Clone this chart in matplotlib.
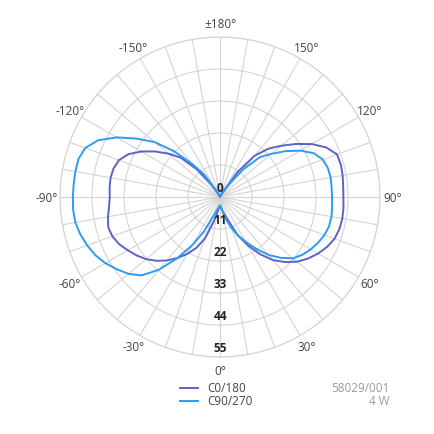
"""Diagrama polar de distribución de intensidad luminosa (C0/180 y C90/270)."""

import numpy as np
import matplotlib
matplotlib.use("Agg")
import matplotlib.pyplot as plt
from matplotlib.lines import Line2D

plt.rcParams['font.family'] = ['Open Sans', 'DejaVu Sans']

# Ángulos gamma en grados (0° abajo, ±180° arriba)
angulos = list(range(-180, 185, 5))

# Intensidad plano C0/180
c0_180 = [
    0, 0.05, 0.1, 0.2, 0.4, 0.8, 1.5, 5.5, 12.4, 19.2,
    23.2, 27.3, 31.3, 34.8, 37.0, 37.9, 38.2, 38.1, 37.9, 38.3,
    39.1, 39.8, 39.4, 38.3, 36.6, 35.0, 33.2, 31.0, 28.5, 25.6,
    22.6, 19.3, 15.2, 9.1, 5.5, 3.6, 2.9, 3.5, 4.8, 6.5,
    9.0, 14.6, 19.3, 24.0, 28.3, 31.6, 34.6, 36.9, 38.9, 40.6,
    41.9, 42.5, 42.7, 42.6, 42.4, 42.5, 42.8, 43.0, 42.8, 40.3,
    36.4, 31.8, 27.4, 23.5, 18.5, 10.5, 2.0, 0.8, 0.4, 0.2,
    0.1, 0.05, 0,
]

# Intensidad plano C90/270
c90_270 = [
    0, 0.05, 0.1, 0.2, 0.4, 0.8, 2.5, 9.3, 14.8, 22.1,
    29.4, 35.0, 41.0, 46.2, 49.3, 50.4, 50.5, 50.5, 50.6, 50.7,
    50.5, 49.7, 48.6, 47.3, 45.5, 43.3, 41.1, 38.1, 32.6, 25.7,
    19.2, 13.1, 7.2, 5.0, 3.9, 3.2, 2.9, 3.5, 5.0, 8.0,
    11.2, 14.6, 17.9, 21.8, 26.0, 29.6, 32.8, 34.6, 36.0, 37.2,
    38.2, 38.8, 38.9, 38.7, 38.5, 38.5, 38.6, 38.4, 37.6, 35.6,
    31.9, 27.5, 23.1, 19.4, 12.4, 5.5, 1.5, 0.8, 0.4, 0.2,
    0.1, 0.05, 0,
]

anillos = [11, 22, 33, 44, 55]
etiquetas_angulo = {0: '0°', 30: '30°', 60: '60°', 90: '90°', 120: '120°',
                    150: '150°', 180: '±180°', -150: '-150°', -120: '-120°',
                    -90: '-90°', -60: '-60°', -30: '-30°'}
series = ['C0/180', 'C90/270']
colores = ['#5a63c6', '#2b9cf2']

COLOR_REJILLA = '#d4d4d4'

fig = plt.figure(figsize=(4.35, 4.35), dpi=100)
fig.patch.set_facecolor('white')
ax = fig.add_axes([0.138, 0.177, 0.7356, 0.7356], projection='polar')
ax.set_theta_zero_location('S')
ax.set_theta_direction(1)
ax.set_ylim(0, 55)

# Rejilla
ax.set_xticks(np.deg2rad(np.arange(0, 360, 10)))
ax.set_xticklabels([])
ax.set_yticks(anillos)
ax.set_yticklabels([])
ax.grid(True, color=COLOR_REJILLA, linewidth=0.8)
ax.spines['polar'].set_color(COLOR_REJILLA)
ax.spines['polar'].set_linewidth(0.8)
ax.tick_params(length=0)

# Curvas
th = np.deg2rad(angulos)
ax.plot(th, c0_180, color=colores[0], linewidth=1.4, zorder=3)
ax.plot(th, c90_270, color=colores[1], linewidth=1.4, zorder=4)

# Etiquetas de ángulo
for ang, txt in etiquetas_angulo.items():
    ax.text(np.deg2rad(ang), 59.5, txt, ha='center', va='center',
            fontsize=8.5, color='#444444', clip_on=False)

# Etiquetas radiales
for r in [0] + anillos:
    ax.annotate(str(r), xy=(0, r), xytext=(0, 2.5), textcoords='offset points',
                ha='center', va='bottom', fontsize=8.5, fontweight='bold',
                color='#222222', zorder=5)

# Leyenda manual
for i, (nombre, color) in enumerate(zip(series, colores)):
    y = 1 - (389 + 12.5 * i) / 435
    fig.add_artist(Line2D([180 / 435, 198 / 435], [y, y], color=color,
                          linewidth=1.4, transform=fig.transFigure))
    fig.text(207 / 435, y, nombre, ha='left', va='center', fontsize=8.5,
             color='#444444')

fig.text(390 / 435, 1 - 389 / 435, '58029/001', ha='right', va='center',
         fontsize=8.5, color='#9a9a9a')
fig.text(390 / 435, 1 - 401.5 / 435, '4 W', ha='right', va='center',
         fontsize=8.5, color='#9a9a9a')

fig.savefig('out.png', dpi=100, facecolor='white')
plt.close(fig)
